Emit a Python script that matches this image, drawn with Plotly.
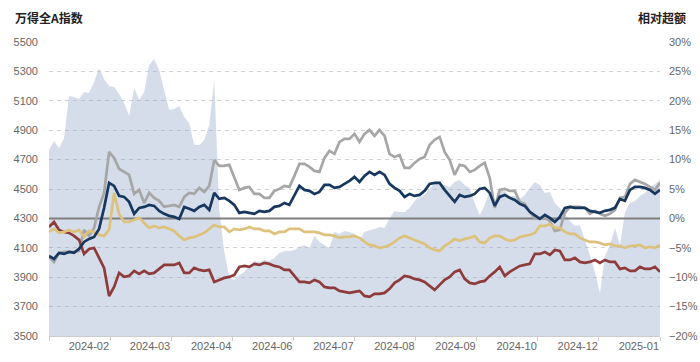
import numpy as np
import plotly.graph_objects as go

# ---- data ----
tick_labels = ['2024-02', '2024-03', '2024-04', '2024-06', '2024-07',
               '2024-08', '2024-09', '2024-10', '2024-12', '2025-01']

# 万得全A指数 (left axis)
wind_all_a = [
    4765, 4826, 4779, 4847, 5133, 5126, 5112, 5160, 5153, 5228,
    5323, 5248, 5201, 5194, 5146, 5085, 4997, 5187, 5105, 5160,
    5344, 5384, 5310, 5173, 5037, 5044, 5065, 4990, 4949, 4799,
    4799, 4833, 4935, 5241, 4357, 4071, 3901, 3881, 3915, 3935,
    3976, 4010, 4003, 4017, 4010, 4031, 4065, 4078, 4078, 4085,
    4105, 4119, 4099, 4180, 4139, 4119, 4099, 4207, 4194, 4214,
    4207, 4194, 4153, 4207, 4221, 4228, 4241, 4235, 4303, 4350,
    4344, 4344, 4371, 4418, 4446, 4459, 4500, 4541, 4527, 4527,
    4514, 4548, 4561, 4527, 4507, 4405, 4323, 4391, 4493, 4391,
    4486, 4486, 4452, 4452, 4432, 4459, 4507, 4548, 4527, 4473,
    4480, 4405, 4371, 4330, 4282, 4248, 4255, 4153, 4051, 3935,
    3793, 4044, 4119, 4235, 4119, 4344, 4405, 4418, 4452, 4473,
    4514, 4534, 4561,
]

# 相对超额 (right axis, %)
excess_grey = [
    -6.55, -7.40, -5.87, -5.70, -5.70, -5.70, -5.53, -1.96, -2.98, -1.62,
    1.96, 4.34, 11.31, 10.29, 8.42, 7.91, 7.40, 4.17, 4.85, 2.63,
    4.34, 3.49, 2.98, 1.96, 2.13, 2.30, 1.96, 3.66, 4.34, 4.17,
    5.19, 4.51, 5.53, 9.95, 8.93, 8.93, 9.10, 7.06, 4.85, 5.19,
    5.36, 4.17, 4.17, 3.49, 3.49, 4.68, 5.02, 5.53, 5.36, 7.23,
    9.27, 9.27, 8.76, 8.08, 7.91, 10.29, 11.48, 10.97, 13.01, 13.52,
    13.52, 14.37, 13.01, 14.37, 15.05, 14.03, 15.05, 14.03, 10.97, 10.46,
    10.80, 8.59, 8.59, 9.44, 10.12, 10.46, 12.50, 13.35, 13.86, 11.31,
    9.95, 7.40, 9.10, 8.93, 7.91, 8.25, 8.93, 9.44, 6.89, 1.79,
    4.85, 5.02, 4.68, 4.68, 2.81, 2.47, 1.11, 0.09, 0.09, 0.09,
    -0.43, -2.13, -1.96, 0.94, 1.96, 1.96, 1.96, 1.79, 0.77, 1.28,
    0.77, 0.43, 0.77, 1.45, 3.49, 3.66, 5.87, 6.55, 6.21, 5.87,
    5.36, 4.85, 6.04,
]
excess_navy = [
    -6.38, -6.89, -5.87, -6.04, -5.70, -5.87, -5.19, -4.00, -3.49, -3.15,
    -1.79, 1.79, 6.04, 5.53, 3.83, 3.66, 2.81, 0.77, 1.79, 1.96,
    2.30, 2.13, 1.28, 0.77, 0.43, 0.26, -0.09, 1.96, 1.62, 1.28,
    1.96, 2.30, 1.45, 4.34, 3.32, 3.49, 2.98, 2.30, 0.94, 1.11,
    0.94, 0.77, 1.28, 1.11, 1.28, 1.96, 2.13, 2.64, 2.30, 4.00,
    5.53, 4.85, 4.68, 4.17, 4.51, 5.70, 5.70, 5.19, 5.36, 5.87,
    6.38, 7.06, 6.21, 7.23, 7.91, 7.40, 7.91, 7.40, 5.87, 5.19,
    4.68, 3.66, 4.17, 3.83, 4.00, 4.68, 5.87, 6.04, 6.04, 4.85,
    3.83, 2.81, 4.00, 3.66, 3.83, 4.17, 5.02, 5.19, 4.34, 2.13,
    3.66, 4.00, 3.49, 3.15, 2.47, 2.13, 1.11, 0.43, -0.09, 0.60,
    0.09, -0.60, 0.26, 1.79, 1.96, 1.79, 1.79, 1.79, 1.28, 1.11,
    0.94, 1.28, 1.45, 1.79, 3.32, 2.98, 4.85, 5.36, 5.36, 5.19,
    4.85, 4.17, 4.85,
]
excess_gold = [
    -2.30, -1.79, -2.47, -2.30, -1.96, -2.30, -1.96, -3.15, -2.13, -2.30,
    -2.81, -2.98, -1.96, 4.34, 0.77, -0.60, -0.60, -0.26, 0.09, -0.77,
    -1.62, -1.28, -1.62, -1.45, -1.79, -2.13, -2.98, -3.66, -3.32, -3.15,
    -2.81, -2.47, -1.79, -1.11, -1.45, -1.45, -2.30, -1.79, -1.96, -1.79,
    -1.45, -1.79, -1.79, -2.13, -2.13, -2.64, -2.30, -2.30, -1.79, -1.79,
    -1.79, -2.30, -2.30, -2.30, -2.47, -2.81, -2.81, -2.98, -3.32, -3.15,
    -3.15, -2.98, -3.32, -4.00, -4.51, -4.68, -5.02, -4.85, -4.51, -4.00,
    -3.32, -2.98, -3.32, -3.66, -4.00, -4.34, -5.02, -5.36, -5.53, -4.68,
    -4.17, -3.49, -3.83, -3.49, -3.32, -2.98, -4.00, -4.17, -3.32, -2.98,
    -2.98, -3.49, -3.83, -3.66, -3.15, -2.98, -2.81, -2.47, -1.28, -1.28,
    -0.94, -1.62, -1.62, -2.30, -2.64, -2.64, -3.32, -3.66, -4.00, -4.00,
    -4.17, -4.51, -4.34, -4.68, -4.68, -5.02, -4.68, -4.68, -4.51, -5.02,
    -4.85, -5.02, -4.51,
]
excess_red = [
    -1.45, -0.60, -1.96, -2.30, -2.47, -2.98, -3.66, -6.04, -5.19, -5.02,
    -6.72, -8.42, -13.20, -11.65, -9.27, -9.95, -9.78, -8.93, -9.44, -8.93,
    -9.44, -9.27, -8.59, -7.91, -7.91, -7.91, -7.57, -9.27, -9.27, -8.42,
    -8.76, -8.93, -8.76, -10.80, -10.46, -10.12, -9.95, -9.61, -8.25, -8.08,
    -8.25, -7.74, -7.91, -7.57, -7.74, -8.08, -8.25, -8.76, -8.76, -9.78,
    -10.80, -10.80, -10.97, -10.46, -10.80, -11.65, -11.82, -11.82, -12.33, -12.50,
    -12.67, -12.50, -12.33, -13.18, -13.35, -12.84, -12.84, -12.67, -11.99, -10.97,
    -10.46, -9.78, -9.95, -10.29, -10.46, -10.80, -11.48, -12.16, -11.31, -10.46,
    -9.95, -9.10, -8.76, -10.29, -10.97, -11.14, -10.80, -10.63, -9.78, -9.10,
    -8.25, -9.78, -9.10, -8.59, -8.08, -7.91, -7.74, -6.04, -6.04, -5.70,
    -6.21, -5.36, -5.53, -7.06, -7.06, -6.72, -7.40, -7.57, -7.40, -7.06,
    -7.57, -7.06, -7.40, -7.40, -8.59, -8.42, -8.93, -8.93, -8.25, -8.59,
    -8.59, -8.25, -9.10,
]

# ---- styles ----
AREA_FILL = 'rgba(160,176,206,0.43)'
GREY = '#a6a6a6'
NAVY = '#17375e'
GOLD = '#dcc27c'
RED = '#8e3b3b'
TICK_FONT = dict(family='Liberation Sans, Arial, sans-serif', size=11, color='#666666')
TITLE_FONT = dict(family='Noto Sans CJK SC, sans-serif', size=12, color='#222222')

n = len(wind_all_a)
x = list(range(n))
tick_pos = list(np.linspace(0, n - 1, len(tick_labels) + 1))
tick_text = [''] + tick_labels

fig = go.Figure()
fig.add_trace(go.Scatter(x=x, y=wind_all_a, mode='none', fill='tozeroy',
                         fillcolor=AREA_FILL, yaxis='y', hoverinfo='skip'))
fig.add_trace(go.Scatter(x=[x[0], x[-1]], y=[0, 0], mode='lines', yaxis='y2',
                         line=dict(color='#7f7f7f', width=2), hoverinfo='skip'))
for series, color in [(excess_grey, GREY), (excess_red, RED),
                      (excess_gold, GOLD), (excess_navy, NAVY)]:
    fig.add_trace(go.Scatter(x=x, y=series, mode='lines', yaxis='y2',
                             line=dict(color=color, width=2.7)))

fig.update_layout(
    width=700, height=362,
    margin=dict(l=49, r=40, t=42, b=26),
    paper_bgcolor='white', plot_bgcolor='white',
    showlegend=False,
    xaxis=dict(range=[0, n - 1], tickmode='array', tickvals=tick_pos, ticktext=tick_text,
               ticks='outside', ticklen=4, tickcolor='#cccccc', showline=True,
               linecolor='#cccccc', linewidth=1, showgrid=False, zeroline=False,
               ticklabelposition='outside left', tickfont=TICK_FONT, automargin=False),
    yaxis=dict(range=[3500, 5500], dtick=200, tick0=3500, showgrid=True,
               gridcolor='#d2d2d2', griddash='4px,4px', gridwidth=1, zeroline=False,
               showline=False, ticks='', tickfont=TICK_FONT, ticklabelstandoff=10,
               automargin=False),
    yaxis2=dict(range=[-20, 30], dtick=5, tick0=-20, overlaying='y', side='right',
                showgrid=False, zeroline=False, showline=False, ticks='',
                ticksuffix='%', tickfont=TICK_FONT, ticklabelstandoff=8,
                automargin=False),
    annotations=[
        dict(text='<b>万得全A指数</b>', xref='paper', yref='paper', x=-0.059, y=1.085,
             xanchor='left', yanchor='middle', showarrow=False, font=TITLE_FONT),
        dict(text='<b>相对超额</b>', xref='paper', yref='paper', x=1.046, y=1.085,
             xanchor='right', yanchor='middle', showarrow=False, font=TITLE_FONT),
    ],
)

fig.write_html('out.html', config={'displayModeBar': False},
               post_script="document.body.style.margin='0';document.body.style.overflow='hidden';")
